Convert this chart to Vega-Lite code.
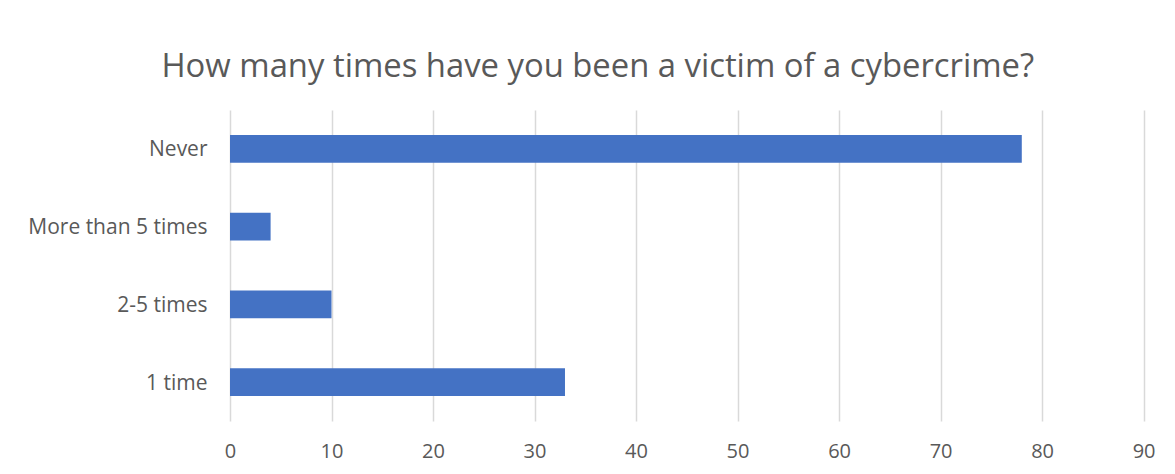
{
  "$schema": "https://vega.github.io/schema/vega-lite/v6.json",
  "autosize": {"type": "none"},
  "width": 913.6,
  "height": 311,
  "padding": {"left": 230, "top": 110, "right": 31.4, "bottom": 53},
  "background": "white",
  "title": {
    "text": "How many times have you been a victim of a cybercrime?",
    "font": "Open Sans",
    "fontSize": 32.8,
    "fontWeight": "normal",
    "color": "#595959",
    "anchor": "middle",
    "frame": "group",
    "dx": -89,
    "dy": 31,
    "baseline": "alphabetic",
    "offset": 31
  },
  "data": {
    "values": [
      {"answer": "Never", "count": 78},
      {"answer": "More than 5 times", "count": 4},
      {"answer": "2-5 times", "count": 10},
      {"answer": "1 time", "count": 33}
    ]
  },
  "mark": {"type": "bar", "color": "#4472C4"},
  "encoding": {
    "y": {
      "field": "answer",
      "type": "nominal",
      "sort": null,
      "title": null,
      "scale": {"paddingInner": 0.64, "paddingOuter": 0.32},
      "axis": {
        "domain": false,
        "ticks": false,
        "labelFont": "Open Sans",
        "labelFontSize": 21,
        "labelColor": "#595959",
        "labelPadding": 23,
        "labelOffset": 1.5,
        "labelLimit": 300
      }
    },
    "x": {
      "field": "count",
      "type": "quantitative",
      "title": null,
      "scale": {"domain": [0, 90], "nice": false},
      "axis": {
        "values": [0, 10, 20, 30, 40, 50, 60, 70, 80, 90],
        "domain": false,
        "ticks": false,
        "grid": true,
        "gridColor": "#D9D9D9",
        "gridWidth": 1.5,
        "labelFont": "Open Sans",
        "labelFontSize": 20,
        "labelColor": "#595959",
        "labelPadding": 20,
        "labelFlush": false
      }
    }
  },
  "config": {"view": {"stroke": null}}
}
